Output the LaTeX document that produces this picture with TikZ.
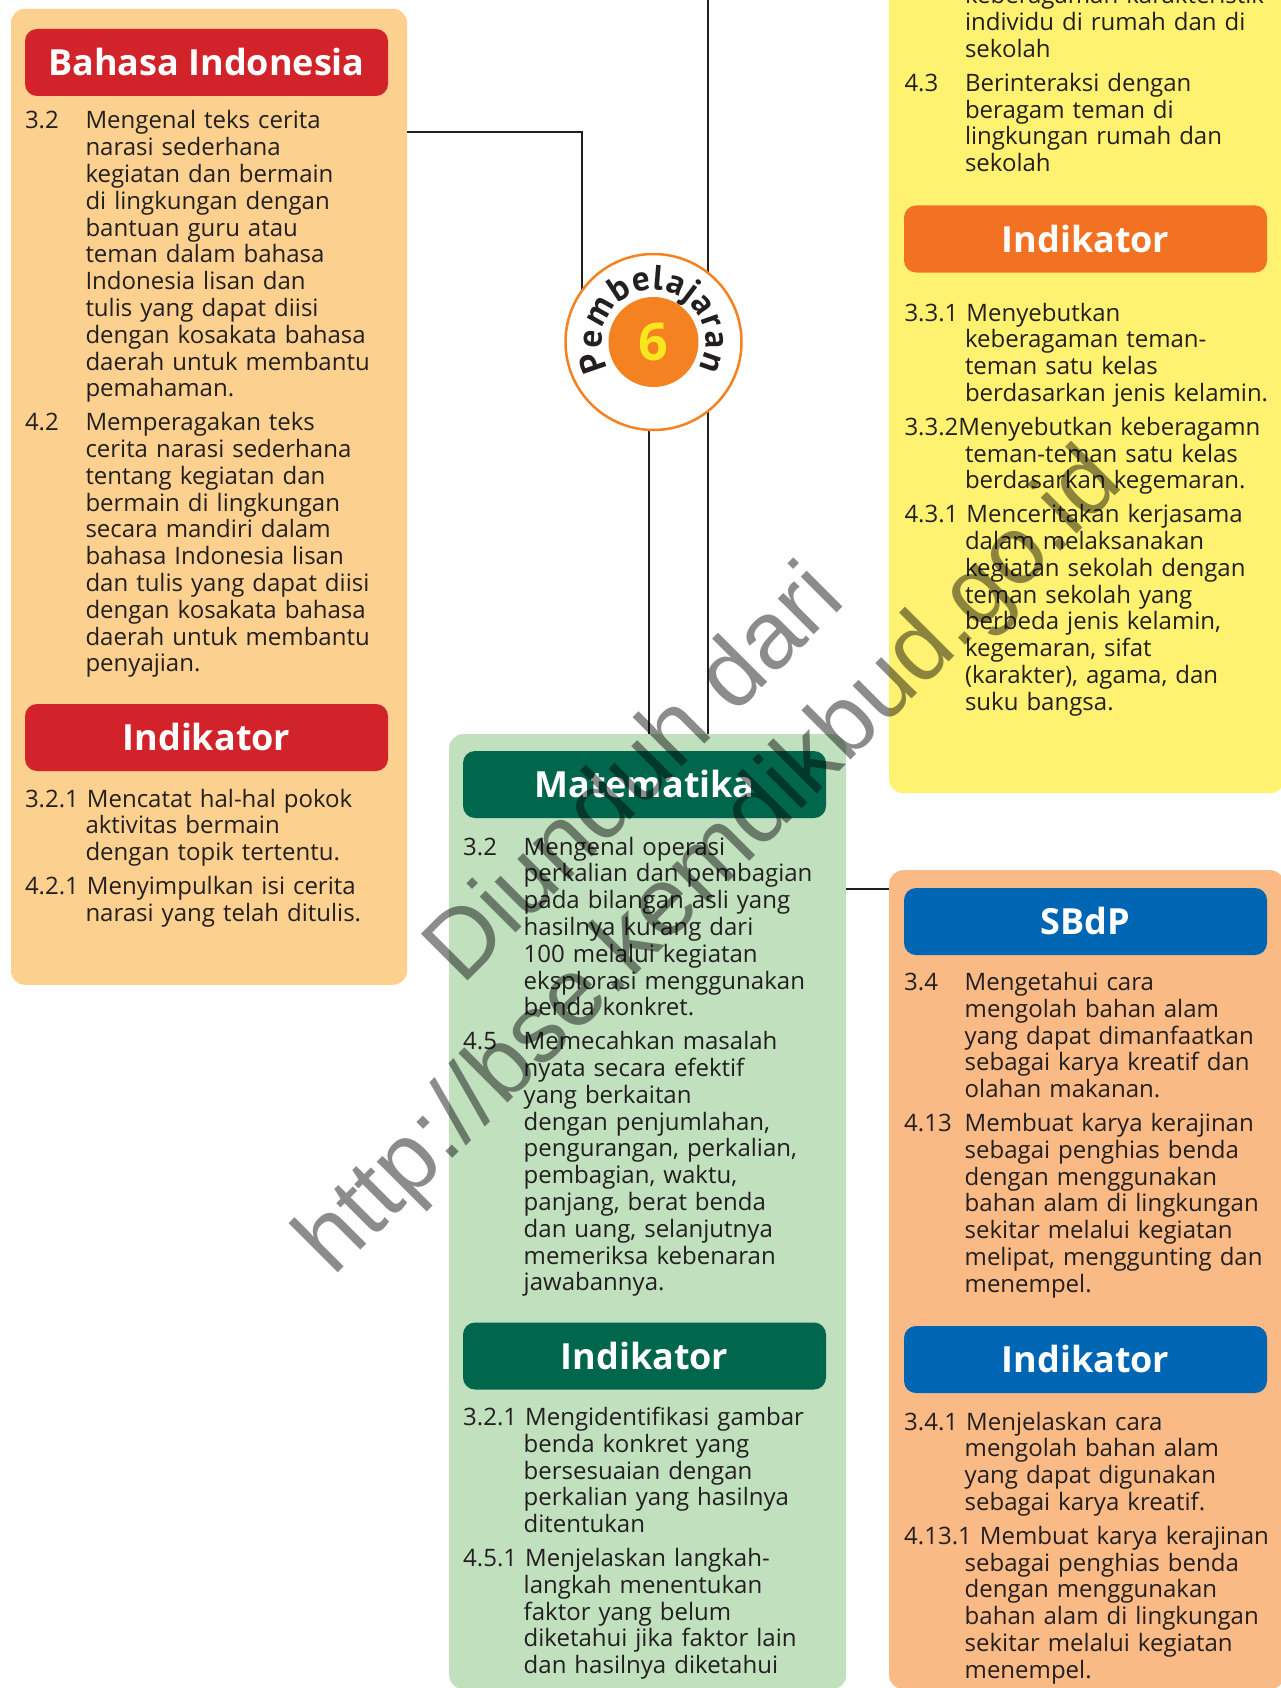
\documentclass[tikz,border=0pt]{standalone}
\usepackage{fontspec}
\setmainfont{Open Sans}
\newfontfamily\wmfont{Liberation Sans}
\newfontfamily\pbface{PT Sans}
\usetikzlibrary{positioning, calc, decorations.text}

\definecolor{txt}{RGB}{35,31,32}
\definecolor{bibg}{RGB}{252,208,142}
\definecolor{bired}{RGB}{210,35,42}
\definecolor{ppbg}{RGB}{255,242,112}
\definecolor{pporange}{RGB}{243,113,35}
\definecolor{mtbg}{RGB}{192,224,190}
\definecolor{mtgreen}{RGB}{0,102,76}
\definecolor{sbbg}{RGB}{249,186,133}
\definecolor{sbblue}{RGB}{0,102,179}
\definecolor{pbor}{RGB}{245,130,32}
\definecolor{pbyel}{RGB}{248,230,30}

\newlength{\numw}
\setlength{\numw}{60.5pt}
\newcommand{\kdfont}{\fontsize{24}{26.8}\selectfont}
\newcommand{\ttlfont}{\fontsize{36}{40}\selectfont\bfseries}
\newcommand{\pbfont}{\pbface\fontsize{35}{35}\selectfont\bfseries}
\newcommand{\kdnum}[1]{\sbox0{#1\ }\ifdim\wd0<\numw\makebox[\numw][l]{#1}\else\usebox0\fi}
% one competency item: number, then body with hanging indent
\newcommand{\kd}[2]{\ifvmode\noindent\fi\hangindent\numw\hangafter1%
  \let\\\newline\strut\kdnum{#1}#2\par}
\newcommand{\kdraw}[1]{\ifvmode\noindent\fi\hangindent\numw\hangafter1%
  \let\\\newline\strut#1\par}
\newcommand{\kdcont}[1]{\ifvmode\noindent\fi\hangindent\numw\hangafter0%
  \let\\\newline\strut#1\par}
\newcommand{\kdgap}{\vspace{7pt}}

\begin{document}
\begin{tikzpicture}[
  x=1pt, y=-1pt,
  panel/.style  = {rounded corners=14pt, inner sep=0pt, anchor=north west},
  ttl/.style    = {rounded corners=12pt, minimum width=363pt, minimum height=67pt,
                   text height=26pt, text depth=0pt, inner sep=0pt,
                   text=white, font=\ttlfont},
  kdtext/.style = {anchor=base west, inner sep=0pt, text width=420pt,
                   font=\kdfont, text=txt},
  link/.style   = {line width=2pt, draw=txt},
  badge/.style  = {circle, draw=pbor, line width=2.5pt, fill=white,
                   minimum size=176pt, inner sep=0pt},
  core/.style   = {circle, fill=pbor, minimum size=90pt, inner sep=0pt},
  corenum/.style= {font=\fontsize{52}{52}\selectfont\bfseries, text=pbyel, inner sep=0pt},
  wmark/.style  = {rotate=45, font=\wmfont\fontsize{96}{96}\selectfont,
                   text=black, text opacity=0.45, inner sep=0pt},
]
\useasboundingbox (0,0) rectangle (1281,1688);
\clip (0,0) rectangle (1281,1688);

% ---------- subject panels ----------
\node[panel, fill=bibg, minimum width=396pt, minimum height=976pt] (bi) at (10.8,8.6) {};
\node[panel, fill=ppbg, minimum width=395pt, minimum height=853pt] (pp) at (889,-60) {};
\node[panel, fill=mtbg, minimum width=397pt, minimum height=955pt] (mt) at (449,734) {};
\node[panel, fill=sbbg, minimum width=395pt, minimum height=819pt] (sb) at (889,870) {};

% ---------- title bars ----------
\node[ttl, fill=bired]    (bi-t)  at (206.5,62.5)   {Bahasa Indonesia};
\node[ttl, fill=bired]    (bi-it) at (206.5,737.5)  {Indikator};
\node[ttl, fill=pporange] (pp-it) at (1085.5,239)   {Indikator};
\node[ttl, fill=mtgreen]  (mt-t)  at (644.5,784.5)  {Matematika};
\node[ttl, fill=mtgreen]  (mt-it) at (644.5,1356)   {Indikator};
\node[ttl, fill=sbblue]   (sb-t)  at (1085.5,921.5) {SBdP};
\node[ttl, fill=sbblue]   (sb-it) at (1085.5,1359.5){Indikator};

% ---------- Bahasa Indonesia ----------
\node[kdtext] (bi-kd) at (24.8,129) {%
  \kd{3.2}{Mengenal teks cerita\\ narasi sederhana\\ kegiatan dan bermain\\
    di lingkungan dengan\\ bantuan guru atau\\ teman dalam bahasa\\
    Indonesia lisan dan\\ tulis yang dapat diisi\\ dengan kosakata bahasa\\
    daerah untuk membantu\\ pemahaman.}\kdgap
  \kd{4.2}{Memperagakan teks\\ cerita narasi sederhana\\ tentang kegiatan dan\\
    bermain di lingkungan\\ secara mandiri dalam\\ bahasa Indonesia lisan\\
    dan tulis yang dapat diisi\\ dengan kosakata bahasa\\ daerah untuk membantu\\
    penyajian.}};
\node[kdtext] (bi-ind) at (24.8,807) {%
  \kd{3.2.1}{Mencatat hal-hal pokok\\ aktivitas bermain\\ dengan topik tertentu.}\kdgap
  \kd{4.2.1}{Menyimpulkan isi cerita\\ narasi yang telah ditulis.}};

% ---------- PPKn (upper right) ----------
\node[kdtext] (pp-kd) at (904.3,4) {%
  \kdcont{keberagaman karakteristik\\ individu di rumah dan di\\ sekolah}\kdgap
  \kd{4.3}{Berinteraksi dengan\\ beragam teman di\\ lingkungan rumah dan\\ sekolah}};
\node[kdtext] (pp-ind) at (904.3,321) {%
  \kd{3.3.1}{Menyebutkan\\ keberagaman teman-\\ teman satu kelas\\
    berdasarkan jenis kelamin.}\kdgap
  \kdraw{3.3.2Menyebutkan keberagamn\\ teman-teman satu kelas\\
    berdasarkan kegemaran.}\kdgap
  \kd{4.3.1}{Menceritakan kerjasama\\ dalam melaksanakan\\ kegiatan sekolah dengan\\
    teman sekolah yang\\ berbeda jenis kelamin,\\ kegemaran, sifat\\
    (karakter), agama, dan\\ suku bangsa.}};

% ---------- Matematika ----------
\node[kdtext] (mt-kd) at (463,855) {%
  \kd{3.2}{Mengenal operasi\\ perkalian dan pembagian\\ pada bilangan asli yang\\
    hasilnya kurang dari\\ 100 melalui kegiatan\\ eksplorasi menggunakan\\
    benda konkret.}\kdgap
  \kd{4.5}{Memecahkan masalah\\ nyata secara efektif\\ yang berkaitan\\
    dengan penjumlahan,\\ pengurangan, perkalian,\\ pembagian, waktu,\\
    panjang, berat benda\\ dan uang, selanjutnya\\ memeriksa kebenaran\\
    jawabannya.}};
\node[kdtext] (mt-ind) at (463,1425.5) {%
  \kd{3.2.1}{Mengidentifikasi gambar\\ benda konkret yang\\ bersesuaian dengan\\
    perkalian yang hasilnya\\ ditentukan}\kdgap
  \kd{4.5.1}{Menjelaskan langkah-\\ langkah menentukan\\ faktor yang belum\\
    diketahui jika faktor lain\\ dan hasilnya diketahui}};

% ---------- SBdP ----------
\node[kdtext] (sb-kd) at (904,990.5) {%
  \kd{3.4}{Mengetahui cara\\ mengolah bahan alam\\ yang dapat dimanfaatkan\\
    sebagai karya kreatif dan\\ olahan makanan.}\kdgap
  \kd{4.13}{Membuat karya kerajinan\\ sebagai penghias benda\\ dengan menggunakan\\
    bahan alam di lingkungan\\ sekitar melalui kegiatan\\ melipat, menggunting dan\\
    menempel.}};
\node[kdtext] (sb-ind) at (904,1430) {%
  \kd{3.4.1}{Menjelaskan cara\\ mengolah bahan alam\\ yang dapat digunakan\\
    sebagai karya kreatif.}\kdgap
  \kd{4.13.1}{Membuat karya kerajinan\\ sebagai penghias benda\\ dengan menggunakan\\
    bahan alam di lingkungan\\ sekitar melalui kegiatan\\ menempel.}};

% ---------- connectors ----------
\coordinate (pb-c)    at (653.5,342);
\coordinate (bi-turn) at (582,132);
\coordinate (top-in)  at (708,0);
\coordinate (mt-in)   at (649,0);
\coordinate (sb-in)   at (0,889);
\draw[link] (bi-turn -| bi.east) -- (bi-turn) -- (bi-turn |- pb-c);
\draw[link] (top-in) -- (top-in |- mt.north);
\draw[link] (pb-c -| mt-in) -- (mt-in |- mt.north);
\draw[link] (mt.east |- sb-in) -- (sb.west |- sb-in);

% ---------- Pembelajaran badge ----------
\node[badge]   (pb)      at (pb-c) {};
\node[core]    (pb-core) at (pb) {};
\node[corenum] (pb-num)  at (pb) {6};
\begin{scope}[shift={(pb-c)}, y=1pt]
  \path[decorate, decoration={text along path, text={|\pbfont|Pembelajaran},
        text align={fit to path}, text color=txt}]
    (210:52) arc[start angle=210, end angle=-30, radius=52];
\end{scope}

% ---------- watermark ----------
\node[wmark] (wm-a) at (631,770) {Diunduh dari};
\node[wmark] (wm-b) at (712,864) {http://bse.kemdikbud.go.id};

\end{tikzpicture}
\end{document}
